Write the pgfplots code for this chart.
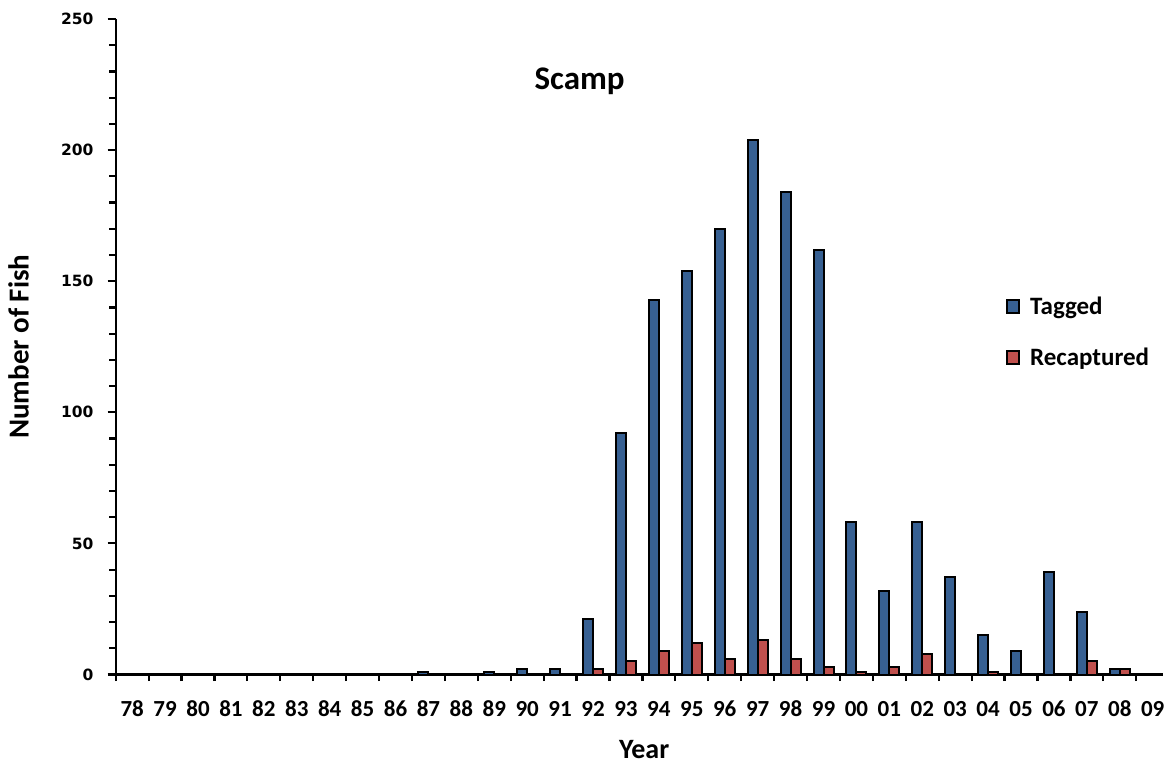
\documentclass[border=0pt]{standalone}
\usepackage{fontspec}
\setmainfont{Carlito}
\newfontfamily\vfont{DejaVu Sans}
\usepackage{pgfplots}
\pgfplotsset{compat=1.18}
\definecolor{tagblue}{RGB}{55,96,146}
\definecolor{recred}{RGB}{192,80,77}
\begin{document}
\begin{tikzpicture}[x=1pt,y=1pt]
\path[use as bounding box] (-115.7,-88.5) rectangle (1049.3,674.5);
\begin{axis}[at={(0,0)},anchor=south west, scale only axis,
 width=1046.9pt, height=655.5pt,
 xmin=-0.5, xmax=31.3, ymin=0, ymax=250,
 axis lines=left, axis line style={-, line width=2.2pt},
 ybar=0pt, bar width=10pt,
 xtick={0,...,31},
 xticklabels={78,79,80,81,82,83,84,85,86,87,88,89,90,91,92,93,94,95,96,97,98,99,00,01,02,03,04,05,06,07,08,09},
 major x tick style={draw=none},
 minor xtick={-0.5,0.5,1.5,2.5,3.5,4.5,5.5,6.5,7.5,8.5,9.5,10.5,11.5,12.5,13.5,14.5,15.5,16.5,17.5,18.5,19.5,20.5,21.5,22.5,23.5,24.5,25.5,26.5,27.5,28.5,29.5,30.5},
 ytick={0,50,100,150,200,250},
 minor ytick={10,20,30,40,60,70,80,90,110,120,130,140,160,170,180,190,210,220,230,240},
 tick align=outside, tick style={line width=2.2pt,black},
 major tick length=8pt, minor tick length=6.5pt,
 /pgf/number format/assume math mode=true,
 xticklabel style={font=\bfseries\fontsize{23}{23}\selectfont, anchor=base, inner sep=0pt, yshift=-34pt},
 yticklabel style={font=\vfont\bfseries\fontsize{15.5}{15.5}\selectfont, inner sep=0pt, xshift=-14pt},
 xlabel={Year}, ylabel={Number of Fish},
 xlabel style={font=\bfseries\fontsize{28}{28}\selectfont, at={(axis description cs:0.5,0)}, anchor=base, inner sep=0pt, yshift=-83.5pt, xshift=5pt},
 ylabel style={font=\bfseries\fontsize{29}{29}\selectfont, at={(axis description cs:0,0.5)}, anchor=center, inner sep=0pt, yshift=97.2pt},
 legend style={draw=none, fill=none, at={(axis description cs:0.8504,0.579)}, anchor=north west,
   font=\bfseries\fontsize{25}{25}\selectfont, row sep=27.5pt, column sep=8pt, inner sep=0pt},
 legend cell align=left,
 clip=false,
]
\addplot[fill=tagblue, draw=black, line width=2pt,
  legend image code/.code={\draw[fill=tagblue,draw=black,line width=2pt] (0pt,-6.5pt) rectangle (12pt,6.5pt);}]
 coordinates {(9,1) (11,1) (12,2) (13,2) (14,21) (15,92) (16,143) (17,154) (18,170) (19,204) (20,184) (21,162) (22,58) (23,32) (24,58) (25,37) (26,15) (27,9) (28,39) (29,24) (30,2)};
\addplot[fill=recred, draw=black, line width=2pt,
  legend image code/.code={\draw[fill=recred,draw=black,line width=2pt] (0pt,-6.5pt) rectangle (12pt,6.5pt);}]
 coordinates {(14,2) (15,5) (16,9) (17,12) (18,6) (19,13) (20,6) (21,3) (22,1) (23,3) (24,8) (26,1) (29,5) (30,2)};
\legend{Tagged, Recaptured}
\node[font=\bfseries\fontsize{33}{33}\selectfont, anchor=base, inner sep=0pt] at (axis cs:13.59,223) {Scamp};
\end{axis}
\end{tikzpicture}
\end{document}
